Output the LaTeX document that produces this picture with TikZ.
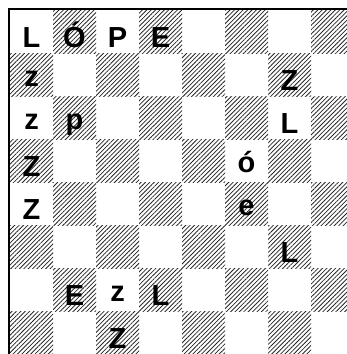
\documentclass[tikz,border=0pt]{standalone}
\usepackage{fontspec}
\setmainfont{Liberation Sans}
\usetikzlibrary{patterns.meta}
\begin{document}
\begin{tikzpicture}[x=1pt,y=-1pt,
  dark/.style={pattern={Lines[angle=45,distance=3.1pt,line width=0.8pt]},pattern color=black!85},
  piece/.style={font=\fontsize{29}{30}\selectfont\bfseries,inner sep=0pt,text=black,anchor=base},
  frame/.style={line width=2.5pt,draw=black}]
\useasboundingbox (0,0) rectangle (347,354);
\clip (0,0) rectangle (347,354);
\foreach \r in {1,...,8}{\foreach \c in {1,...,8}{
  \pgfmathtruncatemacro{\odd}{mod(\r+\c,2)}
  \ifnum\odd=1 \fill[dark] ({10+(\c-1)*43},{10+(\r-1)*43}) rectangle ++(43,43); \fi
}}
\draw[frame] (9,9) rectangle (357,357);
% uppercase baseline at +37, lowercase at +33
\newcommand{\pcU}[4]{\node[piece] (#1) at ({10+(#3-0.5)*43},{10+(#2-1)*43+37}) {#4};}
\newcommand{\pcL}[4]{\node[piece] (#1) at ({10+(#3-0.5)*43},{10+(#2-1)*43+33}) {#4};}
\pcU{a}{1}{1}{L}
\pcU{b}{1}{2}{Ó}
\pcU{c}{1}{3}{P}
\pcU{d}{1}{4}{E}
\pcL{e}{2}{1}{z}
\pcU{f}{2}{7}{Z}
\pcL{g}{3}{1}{z}
\pcL{h}{3}{2}{p}
\pcU{i}{3}{7}{L}
\pcU{j}{4}{1}{Z}
\pcL{k}{4}{6}{ó}
\pcU{l}{5}{1}{Z}
\pcL{m}{5}{6}{e}
\pcU{n}{6}{7}{L}
\pcU{o}{7}{2}{E}
\pcL{q}{7}{3}{z}
\pcU{s}{7}{4}{L}
\pcU{t}{8}{3}{Z}
\end{tikzpicture}
\end{document}
